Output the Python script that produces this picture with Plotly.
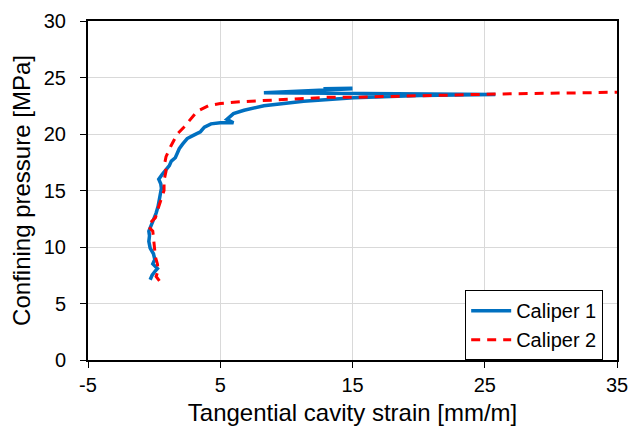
import plotly.graph_objects as go

# Caliper 1 (blue, solid)
cal1_strain = [-0.3, -0.15, 0.1, 0.25, -0.1, 0.05, -0.05, -0.3, -0.4, -0.35, -0.4, -0.25,
               -0.05, 0.15, 0.3, 0.4, 0.5, 0.55, 0.5, 0.35, 0.6, 0.9, 1.15, 1.3, 1.6, 1.75,
               1.9, 2.15, 2.5, 3.0, 3.5, 3.8, 4.3, 5.0, 6.0, 5.5, 6.0, 6.8, 8.3, 11.3, 15.1,
               20.1, 25.8, 8.3, 12.6, 15.0, 12.8, 15.0]
cal1_press = [7.1, 7.5, 7.9, 8.1, 8.5, 8.9, 9.4, 9.9, 10.5, 11.0, 11.4, 11.8,
              12.4, 13.0, 13.6, 14.2, 14.7, 15.2, 15.6, 16.0, 16.4, 16.9, 17.2, 17.6, 17.9, 18.3,
              18.7, 19.1, 19.6, 19.9, 20.2, 20.6, 20.9, 21.0, 21.0, 21.3, 21.8, 22.1, 22.5, 22.9, 23.2,
              23.4, 23.5, 23.65, 23.9, 24.0, 24.0, 24.05]

# Caliper 2 (red, dashed)
cal2_strain = [0.4, 0.15, 0.3, 0.25, 0.1, 0.05, -0.05, -0.1, -0.5, 0.1, 0.3, 0.5, 0.75,
               0.75, 0.9, 0.8, 0.9, 1.25, 1.75, 2.25, 2.75, 3.25, 4.1, 5.0, 6.5, 9.0, 11.1,
               13.1, 15.1, 20.1, 26.4, 32.7, 35.0]
cal2_press = [7.0, 7.4, 7.9, 8.5, 9.1, 9.7, 10.6, 11.4, 11.9, 12.6, 13.4, 14.2, 15.0,
              15.9, 16.7, 17.4, 18.0, 18.9, 20.0, 20.6, 21.3, 22.0, 22.5, 22.7, 22.85, 23.0, 23.1,
              23.25, 23.25, 23.4, 23.55, 23.65, 23.7]

x_ticks = [-5, 5, 15, 25, 35]
y_ticks = [0, 5, 10, 15, 20, 25, 30]

FONT = "Liberation Sans, Arial, sans-serif"

fig = go.Figure()
fig.add_trace(go.Scatter(x=cal1_strain, y=cal1_press, mode="lines", name="Caliper 1",
                         line=dict(color="#0070C0", width=3.5), legendgroup="a"))
fig.add_trace(go.Scatter(x=cal2_strain, y=cal2_press, mode="lines", name="Caliper 2",
                         line=dict(color="#FF0000", width=3, dash="9px,7px"), legendgroup="b"))

fig.update_layout(
    width=628, height=426,
    margin=dict(l=88, r=11, t=21, b=66),
    paper_bgcolor="white", plot_bgcolor="white",
    font=dict(family=FONT, size=20, color="black"),
    showlegend=True,
    legend=dict(x=0.713, y=0.206, xanchor="left", yanchor="top",
                bgcolor="white", bordercolor="black", borderwidth=1,
                font=dict(family=FONT, size=20, color="black"),
                itemwidth=40, tracegroupgap=0),
)
fig.update_xaxes(
    automargin=False, ticklabeloverflow="allow",
    range=[-5, 35], tickvals=x_ticks, ticktext=[str(v) for v in x_ticks],
    showgrid=True, gridcolor="#d9d9d9", gridwidth=1, zeroline=False,
    showline=True, linecolor="black", linewidth=2, mirror=True,
    ticks="outside", ticklen=6, tickcolor="black", tickwidth=1,
    tickfont=dict(family=FONT, size=20, color="black"),
    title=dict(text="Tangential cavity strain [mm/m]", font=dict(family=FONT, size=24, color="black"),
               standoff=12),
)
fig.update_yaxes(
    automargin=False, ticklabeloverflow="allow",
    range=[0, 30], tickvals=y_ticks, ticktext=[str(v) for v in y_ticks],
    showgrid=True, gridcolor="#d9d9d9", gridwidth=1, zeroline=False,
    showline=True, linecolor="black", linewidth=2, mirror=True,
    ticks="outside", ticklen=6, tickcolor="black", tickwidth=1,
    ticklabelstandoff=10,
    tickfont=dict(family=FONT, size=20, color="black"),
    title=dict(text="Confining pressure [MPa]", font=dict(family=FONT, size=24, color="black"),
               standoff=6),
)

fig.write_html("out.html")
